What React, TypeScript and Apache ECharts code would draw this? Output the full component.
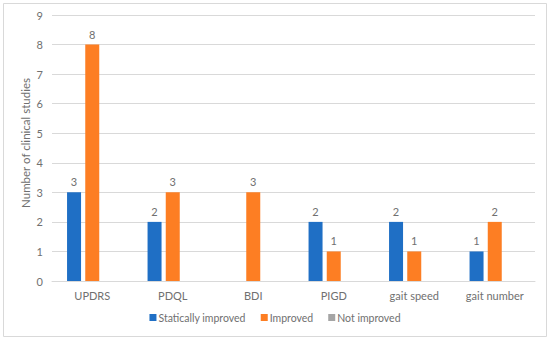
import React, { useEffect, useRef } from "react";
import * as echarts from "echarts";

const categories = ["UPDRS", "PDQL", "BDI", "PIGD", "gait speed", "gait number"];
const staticallyImproved = [3, 2, 0, 2, 2, 1];
const improved = [8, 3, 3, 1, 1, 2];
const notImproved = [0, 0, 0, 0, 0, 0];
const seriesNames = ["Statically improved", "Improved", "Not improved"];

export default function App() {
  const ref = useRef<HTMLDivElement>(null);
  useEffect(() => {
    document.body.style.margin = "0";
    const chart = echarts.init(ref.current!, undefined, { renderer: "svg" });
    const font = "Lato, 'Noto Sans', sans-serif";
    const textColor = "#707070";
    const label = {
      show: true,
      position: "top",
      distance: 5,
      color: textColor,
      fontSize: 11,
      fontFamily: font,
      formatter: (p: any) => (p.value === 0 ? "" : String(p.value)),
    };
    chart.setOption({
      animation: false,
      textStyle: { fontFamily: font },
      graphic: [
        {
          type: "rect",
          shape: { x: 3.5, y: 3.5, width: 543, height: 333 },
          style: { fill: "none", stroke: "#D9D9D9", lineWidth: 1 },
          silent: true,
        },
      ],
      grid: { left: 52, right: 15, top: 15, bottom: 58 },
      legend: {
        top: 307,
        left: "center",
        itemWidth: 7,
        itemHeight: 7,
        itemGap: 15,
        icon: "rect",
        textStyle: { color: textColor, fontSize: 10.5, fontFamily: font, padding: [0, 0, 0, -3] },
        data: seriesNames,
      },
      xAxis: {
        type: "category",
        data: categories,
        axisLine: { lineStyle: { color: "#D9D9D9" } },
        axisTick: { show: false },
        axisLabel: { color: textColor, fontSize: 11, fontFamily: font, margin: 9 },
      },
      yAxis: {
        type: "value",
        min: 0,
        max: 9,
        interval: 1,
        name: "Number of clinical studies",
        nameLocation: "middle",
        nameGap: 27,
        nameRotate: 90,
        nameMoveOverlap: false,
        nameTextStyle: { color: textColor, fontSize: 11.5, fontFamily: font, verticalAlign: "middle", padding: [0, 0, 0, 10] },
        axisLine: { show: false },
        axisTick: { show: false },
        axisLabel: { color: textColor, fontSize: 11, fontFamily: font, margin: 9 },
        splitLine: { lineStyle: { color: "#D9D9D9" } },
      },
      series: [
        {
          name: seriesNames[0],
          type: "bar",
          data: staticallyImproved,
          itemStyle: { color: "#1F6FC5" },
          barWidth: 14,
          barGap: "30%",
          label,
        },
        {
          name: seriesNames[1],
          type: "bar",
          data: improved,
          itemStyle: { color: "#FD7E23" },
          barWidth: 14,
          barGap: "30%",
          label,
        },
        {
          name: seriesNames[2],
          type: "bar",
          data: notImproved,
          itemStyle: { color: "#A5A5A5" },
          barWidth: 14,
          barGap: "30%",
          label,
        },
      ],
    });
    return () => chart.dispose();
  }, []);
  return <div ref={ref} style={{ width: 550, height: 339 }} />;
}
